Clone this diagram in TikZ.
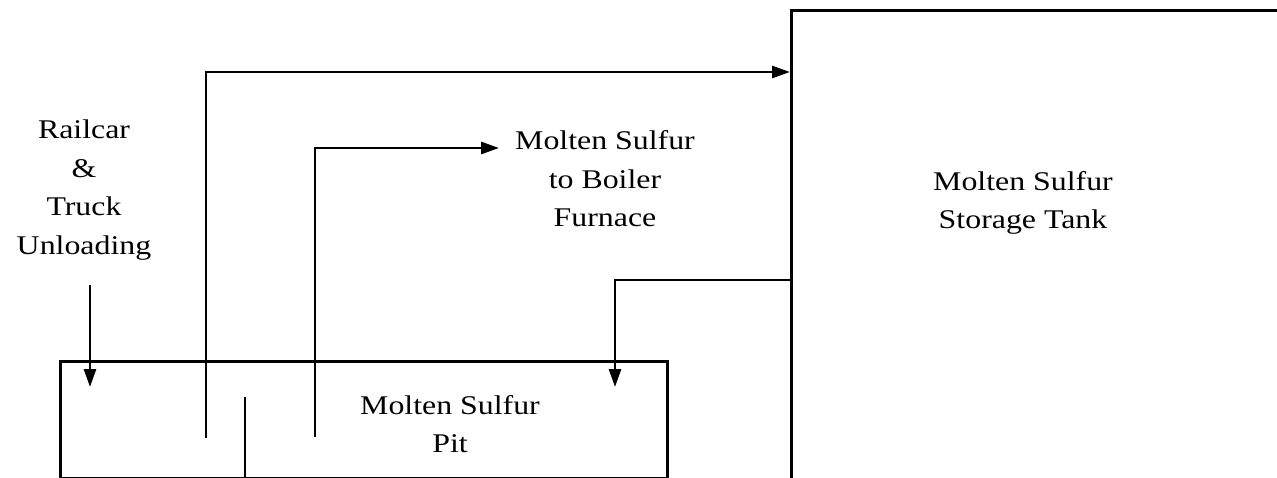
\documentclass[tikz,border=0pt]{standalone}
\usepackage{fontspec}
\setmainfont{Liberation Serif}[FakeStretch=1.18]
\usetikzlibrary{arrows.meta, positioning}
\begin{document}
\begin{tikzpicture}[x=1pt, y=-1pt, every node/.style={font=\fontsize{27}{38.5}\selectfont}]
    \tikzstyle{vessel} = [rectangle, draw, line width=2.6pt, anchor=north west, inner sep=0pt]
    \tikzstyle{txt} = [align=center, inner sep=0pt]
    \tikzstyle{pipe} = [line width=2.8pt]
    \tikzstyle{flow} = [pipe, -{Triangle[length=18pt, width=12pt]}]

    \useasboundingbox (0,0) rectangle (1277,478);
    \clip (0,0) rectangle (1277,478);

    % vessels
    \node[vessel, minimum width=607pt, minimum height=117pt] (pit) at (59,360) {};
    \node[vessel, minimum width=520pt, minimum height=480pt] (tank) at (790,9) {};

    % texts
    \node[txt] (pittext) at (450,424) {Molten Sulfur\\Pit};
    \node[txt] (tanktext) at (1023,203) {Molten Sulfur\\Storage Tank};
    \node[txt] (boiler) at (605,179) {Molten Sulfur\\to Boiler\\Furnace};
    \node[txt] (rail) at (84,190) {Railcar\\\&\\Truck\\Unloading};

    % pipe ends
    \coordinate (railtop) at (90,285);
    \coordinate (railin) at (90,387);
    \coordinate (pipeA) at (206,438);
    \coordinate (pipeB) at (315,437);
    \coordinate (baffle) at (245,397);
    \coordinate (toboiler) at (499,148);
    \coordinate (pitin) at (615,387);

    \draw[flow] (railtop) -- (railin);
    \draw[flow] (pipeA) |- (tank.west |- 0,72);
    \draw[flow] (pipeB) |- (toboiler);
    \draw[pipe] (baffle) -- (pit.south -| baffle);
    \draw[flow] (tank.west |- 0,280) -| (pitin);
\end{tikzpicture}
\end{document}
